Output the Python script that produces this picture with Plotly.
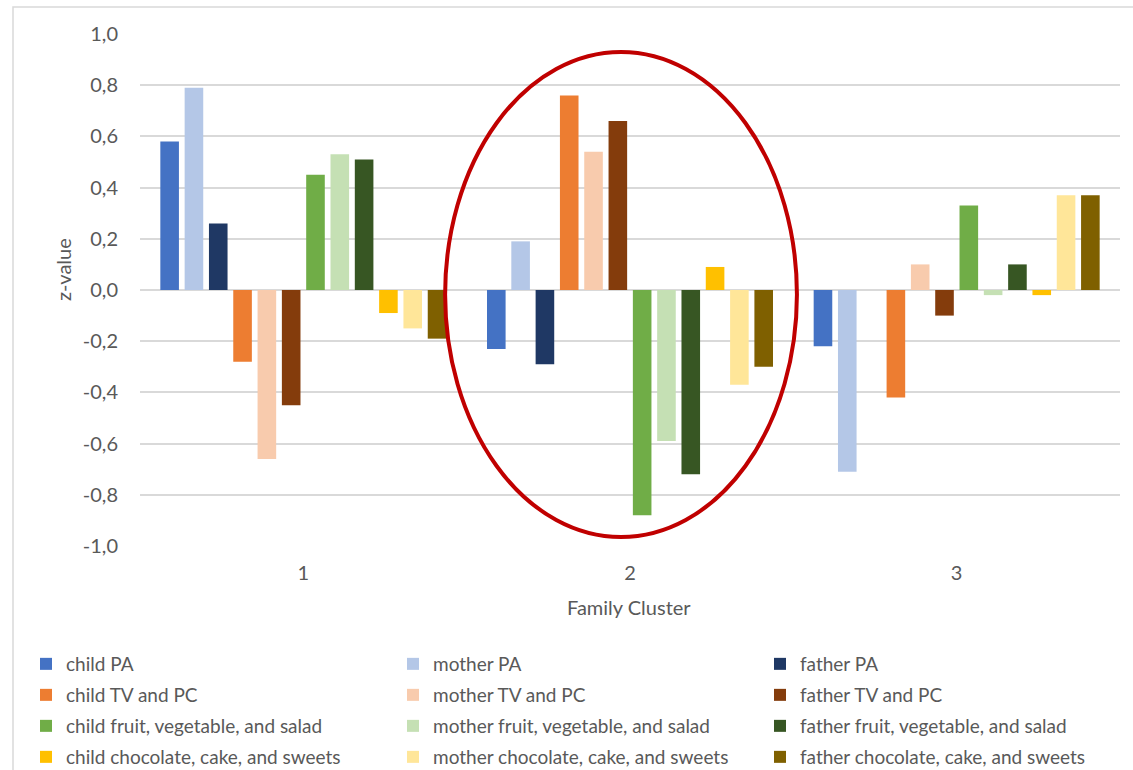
import plotly.graph_objects as go

clusters = ["1", "2", "3"]

series_names = [
    "child PA", "mother PA", "father PA",
    "child TV and PC", "mother TV and PC", "father TV and PC",
    "child fruit, vegetable, and salad", "mother fruit, vegetable, and salad", "father fruit, vegetable, and salad",
    "child chocolate, cake, and sweets", "mother chocolate, cake, and sweets", "father chocolate, cake, and sweets",
]

child_pa = [0.58, -0.23, -0.22]
mother_pa = [0.79, 0.19, -0.71]
father_pa = [0.26, -0.29, 0.0]
child_tv = [-0.28, 0.76, -0.42]
mother_tv = [-0.66, 0.54, 0.10]
father_tv = [-0.45, 0.66, -0.10]
child_fruit = [0.45, -0.88, 0.33]
mother_fruit = [0.53, -0.59, -0.02]
father_fruit = [0.51, -0.72, 0.10]
child_choc = [-0.09, 0.09, -0.02]
mother_choc = [-0.15, -0.37, 0.37]
father_choc = [-0.19, -0.30, 0.37]

series_values = [
    child_pa, mother_pa, father_pa,
    child_tv, mother_tv, father_tv,
    child_fruit, mother_fruit, father_fruit,
    child_choc, mother_choc, father_choc,
]

colors = [
    "#4472C4", "#B4C7E7", "#1F3864",
    "#ED7D31", "#F8CBAD", "#843C0C",
    "#70AD47", "#C5E0B4", "#375623",
    "#FFC000", "#FFE699", "#7F6000",
]

y_ticks = [-1.0, -0.8, -0.6, -0.4, -0.2, 0.0, 0.2, 0.4, 0.6, 0.8, 1.0]
y_ticktext = [f"{v:.1f}".replace(".", ",") for v in y_ticks]

FONT = "Lato"
GRAY = "#595959"

fig = go.Figure()
legend_ids = ["legend", "legend2", "legend3", "legend4"]
for i, (name, vals, col) in enumerate(zip(series_names, series_values, colors)):
    fig.add_trace(go.Bar(
        x=clusters, y=vals, name=name,
        marker=dict(color=col, line=dict(width=0)),
        legend=legend_ids[i // 3],
    ))

W, H = 1133, 770
L, R, T, B = 140, 13, 34, 224
pw = W - L - R
ph = H - T - B

def px_to_paper_x(px):
    return (px - L) / pw

def px_to_paper_y(py):
    return (H - B - py) / ph

row_centers = [664, 695, 726, 757]
legend_cfg = {}
for k, rc in enumerate(row_centers):
    legend_cfg[legend_ids[k]] = dict(
        orientation="h",
        x=px_to_paper_x(26), xanchor="left",
        y=px_to_paper_y(rc), yanchor="middle",
        entrywidth=322, entrywidthmode="pixels",
        font=dict(family=FONT, size=19, color=GRAY),
        bgcolor="rgba(0,0,0,0)",
        itemclick=False, itemdoubleclick=False,
        traceorder="normal",
    )

fig.update_layout(
    width=W, height=H,
    margin=dict(l=L, r=R, t=T, b=B, autoexpand=False),
    paper_bgcolor="white", plot_bgcolor="white",
    barmode="group", bargap=0.107, bargroupgap=0.235,
    font=dict(family=FONT, color=GRAY),
    showlegend=True,
    **legend_cfg,
)

fig.update_xaxes(
    type="category",
    showgrid=False, showline=False, zeroline=False,
    ticks="", ticklabelstandoff=13,
    tickfont=dict(family=FONT, size=20, color=GRAY),
)
fig.update_yaxes(
    range=[-1.0, 1.0], tickvals=y_ticks, ticktext=y_ticktext,
    showgrid=True, gridcolor="#D9D9D9", gridwidth=1.5,
    zeroline=True, zerolinecolor="#D9D9D9", zerolinewidth=1.5,
    showline=False, ticks="", ticklabelstandoff=21,
    tickfont=dict(family=FONT, size=20, color=GRAY),
)

# axis titles
fig.add_annotation(text="z-value", xref="paper", yref="paper",
                   x=px_to_paper_x(63), y=px_to_paper_y(270), textangle=-90,
                   showarrow=False, xanchor="center", yanchor="middle",
                   font=dict(family=FONT, size=20, color=GRAY))
fig.add_annotation(text="Family Cluster", xref="paper", yref="paper",
                   x=px_to_paper_x(629), y=px_to_paper_y(607),
                   showarrow=False, xanchor="center", yanchor="middle",
                   font=dict(family=FONT, size=20, color=GRAY))

# chart area border
fig.add_shape(type="rect", xref="paper", yref="paper",
              x0=px_to_paper_x(13), x1=px_to_paper_x(1150),
              y0=px_to_paper_y(790), y1=px_to_paper_y(7),
              line=dict(color="#D9D9D9", width=1.5), fillcolor="rgba(0,0,0,0)", layer="below")

# red highlight ellipse around cluster 2
fig.add_shape(type="circle", xref="x", yref="y",
              x0=0.434, x1=1.511, y0=-0.965, y1=0.93,
              line=dict(color="#C00000", width=4), fillcolor="rgba(0,0,0,0)")

fig.write_html("out.html")
